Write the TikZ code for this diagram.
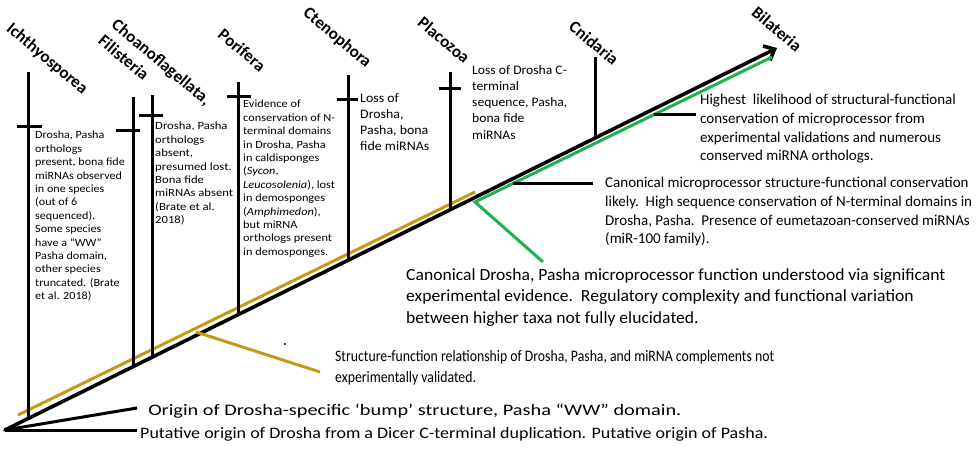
\documentclass[tikz,border=0pt]{standalone}
\usepackage{fontspec}
\setmainfont{Carlito}
\usetikzlibrary{arrows.meta}
\definecolor{goldline}{RGB}{196,154,20}
\definecolor{greenline}{RGB}{32,176,80}
\tikzset{
  taxon/.style={font=\fontsize{17}{21}\selectfont\bfseries, rotate=-40, inner sep=0pt, align=left},
  trunk/.style={line width=3.6pt, line cap=round},
  branch/.style={line width=3pt},
  tick/.style={line width=3pt},
  goldstyle/.style={line width=3pt, draw=goldline},
  greenstyle/.style={line width=3pt, draw=greenline},
  smalltxt/.style={anchor=north west, inner sep=0pt, align=left, font=\fontsize{11}{13.4}\selectfont},
  midtxt/.style={anchor=north west, inner sep=0pt, align=left, xscale=1.07, font=\fontsize{13}{16.2}\selectfont},
  bigtxt/.style={anchor=north west, inner sep=0pt, align=left, font=\fontsize{15}{18.7}\selectfont},
  hugetxt/.style={anchor=north west, inner sep=0pt, align=left, font=\fontsize{17}{21.5}\selectfont},
  bottxt/.style={anchor=west, inner sep=0pt, font=\fontsize{16}{19}\selectfont}
}
\begin{document}
\begin{tikzpicture}[x=1pt,y=-1pt]
\useasboundingbox (0,0) rectangle (978,452);
\clip (0,0) rectangle (978,452);
% main trunk
\coordinate (origin) at (5,430);
\coordinate (tip) at (777,48);
\draw[trunk, -{Straight Barb[length=9pt,width=16pt,line width=3.6pt]}] (origin) -- (tip);
% gold and green
\coordinate (g1) at (18,415);
\coordinate (g2) at (475,192);
\draw[goldstyle] (g1) -- (g2);
\coordinate (gb1) at (196,332);
\coordinate (gb2) at (320,372);
\draw[goldstyle] (gb1) -- (gb2);
\coordinate (gr1) at (475,202);
\coordinate (gr2) at (772,57);
\coordinate (gr3) at (543,262);
\draw[greenstyle] (gr3) -- (gr1) -- (gr2);
% bottom pointers
\coordinate (b1) at (137,408);
\coordinate (b2) at (137,430);
\draw[branch] (origin) -- (b1);
\draw[branch] (origin) -- (b2);
% vertical taxa lines
\coordinate (i1) at (28,72);   \coordinate (i2) at (28,418.6);
\coordinate (c1) at (133,97);  \coordinate (c2) at (133,366.7);
\coordinate (f1) at (152,95);  \coordinate (f2) at (152,357.3);
\coordinate (p1) at (238,82);  \coordinate (p2) at (238,314.7);
\coordinate (t1) at (348,75);  \coordinate (t2) at (348,260.3);
\coordinate (z1) at (450,72);  \coordinate (z2) at (450,209.8);
\coordinate (n1) at (595,57);  \coordinate (n2) at (595,138.1);
\foreach \a/\b in {i1/i2,c1/c2,f1/f2,p1/p2,t1/t2,z1/z2,n1/n2} \draw[branch] (\a) -- (\b);
% ticks
\draw[tick] (17,126) -- (42,126);
\draw[tick] (116,130) -- (140,130);
\draw[tick] (139,115) -- (163,115);
\draw[tick] (227,97) -- (251,97);
\draw[tick] (337,100) -- (358,100);
\draw[tick] (439,89) -- (461,89);
% pointers to right texts
\coordinate (h1) at (654,114); \coordinate (h2) at (696,114);
\draw[tick] (h1) -- (h2);
\coordinate (m1) at (513,183); \coordinate (m2) at (593,183);
\draw[tick] (m1) -- (m2);
% stray dot
\fill (285,344) circle (1.1pt);
% taxon labels
\node[taxon] (lich) at (47,59) {Ichthyosporea};
\node[taxon] (lcho) at (155,70) {Choanoflagellata,\\Filisteria};
\node[taxon] (lpor) at (242,50) {Porifera};
\node[taxon] (lcte) at (337,38) {Ctenophora};
\node[taxon] (lpla) at (444,40) {Placozoa};
\node[taxon] (lcni) at (594,43) {Cnidaria};
\node[taxon] (lbil) at (777,29) {Bilateria};
% texts
\node[smalltxt, xscale=1.1] (tich) at (35,131) {Drosha, Pasha\\orthologs\\present, bona fide\\miRNAs observed\\in one species\\(out of 6\\sequenced).\\Some species\\have a “WW”\\Pasha domain,\\other species\\truncated. (Brate\\et al. 2018)};
\node[smalltxt, xscale=1.15] (tcho) at (155,122) {Drosha, Pasha\\orthologs\\absent,\\presumed lost.\\Bona fide\\miRNAs absent\\(Brate et al.\\2018)};
\node[smalltxt, xscale=1.12] (tpor) at (243,100) {Evidence of\\conservation of N-\\terminal domains\\in Drosha, Pasha\\in caldisponges\\(\textit{Sycon},\\\textit{Leucosolenia}), lost\\in demosponges\\(\textit{Amphimedon}),\\but miRNA\\orthologs present\\in demosponges.};
\node[midtxt] (tcte) at (360,93) {Loss of\\Drosha,\\Pasha, bona\\fide miRNAs};
\node[midtxt, xscale=0.98] (tpla) at (472,65) {Loss of Drosha C-\\terminal\\sequence, Pasha,\\bona fide\\miRNAs};
\node[bigtxt] (thig) at (700,94) {Highest\ \ likelihood of structural-functional\\conservation of microprocessor from\\experimental validations and numerous\\conserved miRNA orthologs.};
\node[bigtxt] (tmic) at (605,177) {Canonical microprocessor structure-functional conservation\\likely.\ \ High sequence conservation of N-terminal domains in\\Drosha, Pasha.\ \ Presence of eumetazoan-conserved miRNAs\\(miR-100 family).};
\node[hugetxt, xscale=1.035] (tdro) at (406,268) {Canonical Drosha, Pasha microprocessor function understood via significant\\experimental evidence.\ \ Regulatory complexity and functional variation\\between higher taxa not fully elucidated.};
\node[anchor=north west, inner sep=0pt, align=left, xscale=0.86, font=\fontsize{16}{21}\selectfont] (tstr) at (335,350) {Structure-function relationship of Drosha, Pasha, and miRNA complements not\\experimentally validated.};
\node[bottxt, xscale=1.27] (tori) at (148,411) {Origin of Drosha-specific ‘bump’ structure, Pasha “WW” domain.};
\node[bottxt, xscale=1.125] (tput) at (140,434) {Putative origin of Drosha from a Dicer C-terminal duplication. Putative origin of Pasha.};
\end{tikzpicture}
\end{document}
